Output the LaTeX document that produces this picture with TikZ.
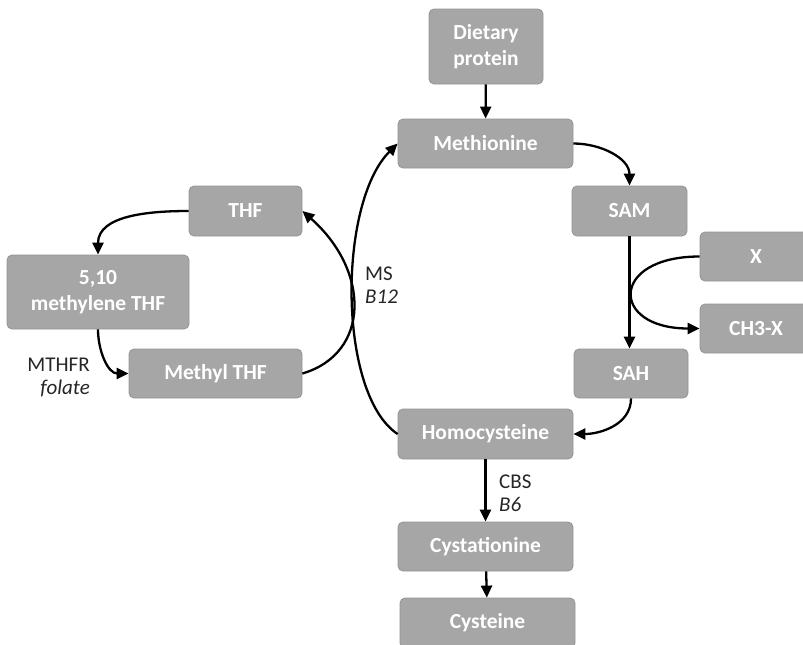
\documentclass[tikz,border=0pt]{standalone}
\usepackage{fontspec}
\setmainfont{Carlito}
\usetikzlibrary{arrows.meta}

\definecolor{boxgray}{HTML}{A6A6A6}
\definecolor{edgegray}{HTML}{949494}

\tikzset{
  metabolite/.style={draw=edgegray, line width=0.8pt, fill=boxgray, rounded corners=5pt,
    text=white, font=\bfseries\fontsize{21.5}{26}\selectfont, align=center, inner sep=0pt},
  flow/.style={line width=2.3pt, -{Triangle[length=12pt,width=11pt]}},
  enzyme/.style={font=\fontsize{21}{23}\selectfont, text=black!85, inner sep=0pt}
}

\begin{document}
\begin{tikzpicture}[x=1pt,y=-1pt]
  \useasboundingbox (0,0) rectangle (803,645);

  % methionine cycle
  \node[metabolite, minimum width=114, minimum height=75] (diet) at (486,46.5) {Dietary\\protein};
  \node[metabolite, minimum width=175, minimum height=49] (met) at (485.5,143.5) {Methionine};
  \node[metabolite, minimum width=115, minimum height=50] (sam) at (629.5,211) {SAM};
  \node[metabolite, minimum width=112, minimum height=49] (x) at (756,256.5) {X};
  \node[metabolite, minimum width=112, minimum height=49] (ch3x) at (756,328.5) {CH3-X};
  \node[metabolite, minimum width=114, minimum height=49] (sah) at (631,373.5) {SAH};
  \node[metabolite, minimum width=175, minimum height=50] (hcy) at (485.5,434) {Homocysteine};
  \node[metabolite, minimum width=175, minimum height=49] (cysta) at (485.5,546.5) {Cystationine};
  \node[metabolite, minimum width=175, minimum height=50] (cys) at (487.5,623) {Cysteine};

  % folate cycle
  \node[metabolite, minimum width=113, minimum height=50] (thf) at (245.5,211) {THF};
  \node[metabolite, minimum width=182, minimum height=74] (mthf) at (98,292) {5,10\\methylene THF};
  \node[metabolite, minimum width=173, minimum height=49] (methyl) at (215.5,373.5) {Methyl THF};

  % enzymes
  \node[enzyme, anchor=east, align=right] (mthfr) at (90,377) {MTHFR\\\textit{folate}};
  \node[enzyme, anchor=west, align=left] (ms) at (365,285) {MS\\\textit{B12}};
  \node[enzyme, anchor=west, align=left] (cbs) at (499,493) {CBS\\\textit{B6}};

  \draw[flow] (diet) -- (met);
  \draw[flow] (met.east) to[out=0,in=90] (sam.north);
  \draw[flow] (sam.south) -- (sah.north -| sam.south);
  \draw[flow] (x.west) .. controls +(-90,0) and +(-90,0) .. (ch3x.west);
  \draw[flow] (sah.south) to[out=-90,in=0] (hcy.east);
  \draw[flow] (hcy.west) .. controls +(-60,-40) and +(-60,60) .. (met.west);
  \draw[flow] (hcy) -- (cysta);
  \draw[flow] (cysta) -- (cys);

  \draw[flow] (methyl.east) .. controls +(68,-20) and +(68,60) .. (thf.east);
  \draw[flow] (thf.west) to[out=180,in=90] (mthf.north);
  \draw[flow] (mthf.south) to[out=-90,in=180] (methyl.west);
\end{tikzpicture}
\end{document}
